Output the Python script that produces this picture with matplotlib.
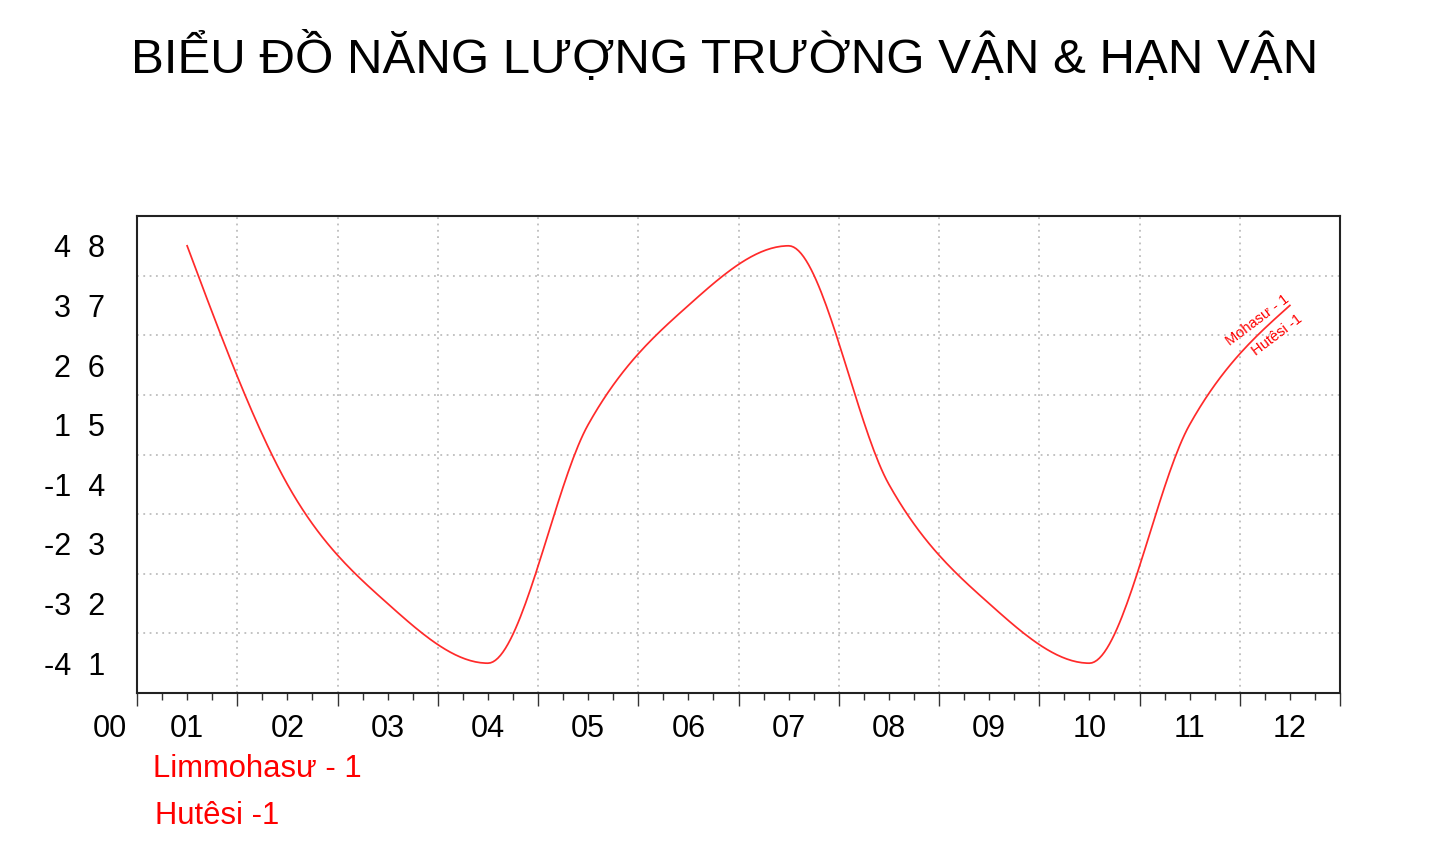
import numpy as np
import matplotlib
matplotlib.use("Agg")
import matplotlib.pyplot as plt
from matplotlib.ticker import FixedLocator, MultipleLocator
import matplotlib.transforms as mtransforms

plt.rcParams['font.family'] = ['Liberation Sans', 'DejaVu Sans']

# ---- data ----
title = "BIỂU ĐỒ NĂNG LƯỢNG TRƯỜNG VẬN & HẠN VẬN"
months = [1, 2, 3, 4, 5, 6, 7, 8, 9, 10, 11, 12]
month_labels = ["01", "02", "03", "04", "05", "06", "07", "08", "09", "10", "11", "12"]
values = [8, 4, 2, 1, 5, 7, 8, 4, 2, 1, 5, 7]
y_levels = [1, 2, 3, 4, 5, 6, 7, 8]
y_left_labels = ["-4", "-3", "-2", "-1", "1", "2", "3", "4"]
legend_lines = ["Limmohasư - 1", "Hutêsi -1"]
end_note_top = "Mohasư - 1"
end_note_bottom = "Hutêsi -1"


def monotone_curve(x, y, n=40):
    """Monotone cubic smoothing through the points."""
    x = np.asarray(x, float)
    y = np.asarray(y, float)
    h = np.diff(x)
    s = np.diff(y) / h
    m = np.zeros_like(y)
    for i in range(1, len(x) - 1):
        p = (s[i - 1] * h[i] + s[i] * h[i - 1]) / (h[i - 1] + h[i])
        m[i] = (np.sign(s[i - 1]) + np.sign(s[i])) * min(abs(s[i - 1]), abs(s[i]), 0.5 * abs(p))
    m[0] = (3 * s[0] - m[1]) / 2
    m[-1] = (3 * s[-1] - m[-2]) / 2
    xs, ys = [], []
    for i in range(len(x) - 1):
        t = np.linspace(0, 1, n, endpoint=(i == len(x) - 2))
        h00 = 2 * t**3 - 3 * t**2 + 1
        h10 = t**3 - 2 * t**2 + t
        h01 = -2 * t**3 + 3 * t**2
        h11 = t**3 - t**2
        xs.append(x[i] + t * h[i])
        ys.append(h00 * y[i] + h10 * h[i] * m[i] + h01 * y[i + 1] + h11 * h[i] * m[i + 1])
    return np.concatenate(xs), np.concatenate(ys)


fig = plt.figure(figsize=(14.46, 8.51), dpi=100)
ax = fig.add_axes([137 / 1446, 1 - 693 / 851, (1340 - 137) / 1446, (693 - 216) / 851])

ax.set_xlim(0.5, 12.5)
ax.set_ylim(0.5, 8.5)

ax.xaxis.set_major_locator(FixedLocator(np.arange(0.5, 12.6, 1.0)))
ax.xaxis.set_minor_locator(MultipleLocator(0.25))
ax.set_xticklabels([])
ax.set_yticks(y_levels)
ax.set_yticklabels([f"{a}  {b}" for a, b in zip(y_left_labels, y_levels)], fontsize=22)
for yg in np.arange(1.5, 8.0, 1.0):
    ax.axhline(yg, color='#bdbdbd', lw=1.3, ls=(0, (1, 2.5)), zorder=0)
for xg in np.arange(1.5, 12.0, 1.0):
    ax.axvline(xg, color='#bdbdbd', lw=1.3, ls=(0, (1, 2.5)), zorder=0)

ax.tick_params(axis='y', length=0, pad=23)
ax.tick_params(axis='x', which='major', direction='out', length=9.5, width=1.0, color='#333333')
ax.tick_params(axis='x', which='minor', direction='out', length=5, width=1.0, color='#333333')
for sp in ax.spines.values():
    sp.set_linewidth(1.5)
    sp.set_color('#222222')

# curve
cx, cy = monotone_curve(months, values)
ax.plot(cx, cy, color='#ff2a2a', lw=1.25, zorder=3)

# x labels
trans = mtransforms.blended_transform_factory(ax.transData, fig.transFigure)
for m, lab in zip(months, month_labels):
    ax.text(m, 1 - 737 / 851, lab, transform=trans, ha='center', va='baseline', fontsize=22)
ax.text(0.23, 1 - 737 / 851, "00", transform=trans, ha='center', va='baseline', fontsize=22)

# end annotations
ax.text(11.68, 6.76, end_note_top, color='red', fontsize=10.5, rotation=37,
        rotation_mode='anchor', ha='center', va='center')
ax.text(11.87, 6.51, end_note_bottom, color='red', fontsize=10.5, rotation=37,
        rotation_mode='anchor', ha='center', va='center')

# title and legend texts
fig.text(0.501, 1 - 73.5 / 851, title, ha='center', va='baseline', fontsize=35.5)
fig.text(153 / 1446, 1 - 777 / 851, legend_lines[0], color='red', ha='left', va='baseline', fontsize=22.3)
fig.text(155 / 1446, 1 - 823.5 / 851, legend_lines[1], color='red', ha='left', va='baseline', fontsize=22.3)

fig.savefig("out.png", dpi=100)
